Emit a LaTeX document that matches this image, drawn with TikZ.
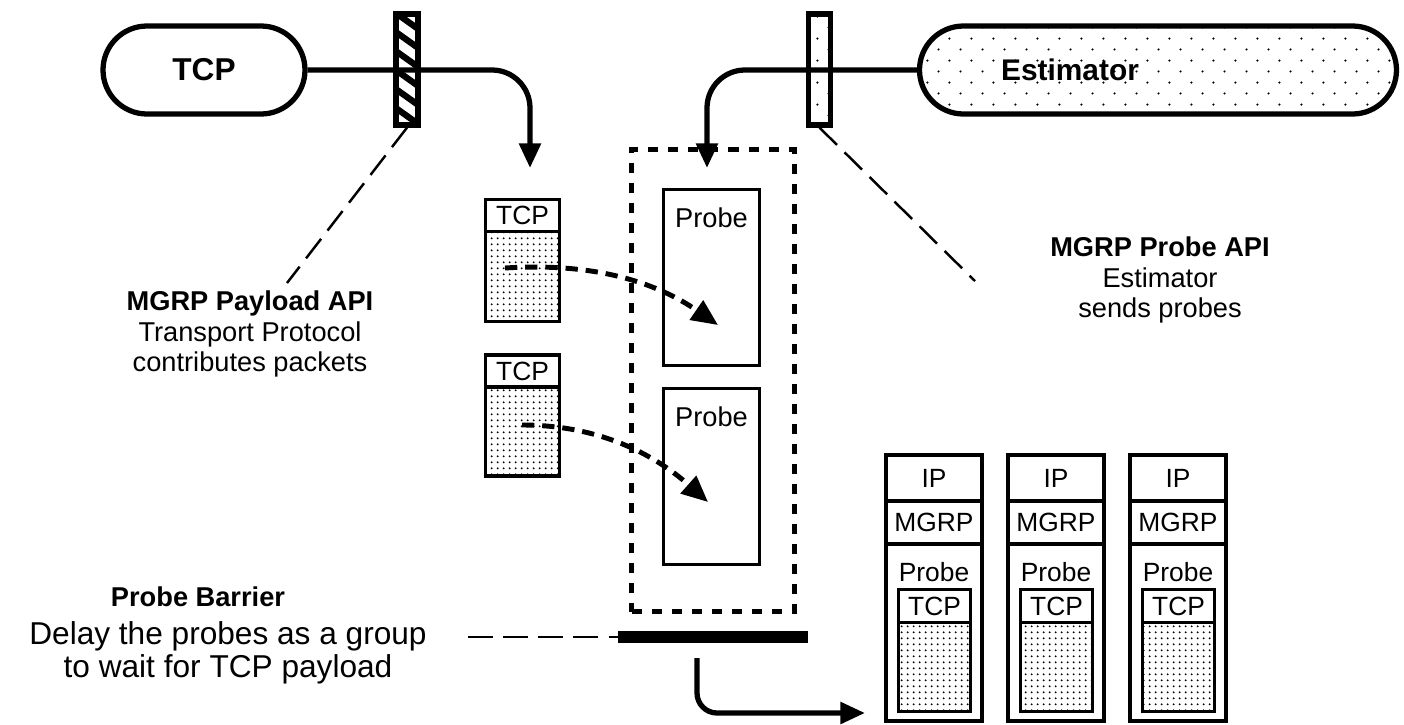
\documentclass[tikz,border=0pt]{standalone}
\usepackage{fontspec}
\setmainfont{Liberation Sans}
\usetikzlibrary{arrows.meta,positioning,patterns}

\newdimen\pxu \pxu=0.02cm

% sparse dots for the estimator side, dense dots for payload
\pgfdeclarepatternformonly{sparsedots}{\pgfpointorigin}{\pgfpoint{12.5pt}{12.5pt}}{\pgfpoint{12.5pt}{12.5pt}}{%
  \pgfpathcircle{\pgfpoint{3.1pt}{3.1pt}}{0.7pt}%
  \pgfpathcircle{\pgfpoint{9.4pt}{9.4pt}}{0.7pt}%
  \pgfusepath{fill}}
\pgfdeclarepatternformonly{densedots}{\pgfpointorigin}{\pgfpoint{3.2pt}{3.2pt}}{\pgfpoint{3.2pt}{3.2pt}}{%
  \pgfpathcircle{\pgfpoint{1.6pt}{1.6pt}}{0.62pt}%
  \pgfusepath{fill}}

\begin{document}
\begin{tikzpicture}[x=0.02cm, y=-0.02cm,
  pill/.style={draw, line width=3pt, rounded corners=44\pxu, minimum height=88\pxu,
    font=\fontsize{18}{20}\selectfont\bfseries},
  gate/.style={draw, line width=3pt, inner sep=0pt, minimum width=22\pxu,
    minimum height=111\pxu},
  pkt/.style={draw, line width=1.8pt, inner sep=0pt, outer sep=0pt,
    font=\fontsize{15}{17}\selectfont},
  lbl/.style={inner sep=0pt, align=center, font=\fontsize{15.5}{17.5}\selectfont},
  conn/.style={line width=3pt, rounded corners=38\pxu, -{Triangle[length=14pt,width=12pt]}},
  move/.style={line width=2.8pt, dash pattern=on 7pt off 4.5pt,
    -{Triangle[length=15pt,width=13pt]}},
  note/.style={line width=1.4pt, dash pattern=on 14pt off 6pt}]
\useasboundingbox (0,0) rectangle (1404,724);

% sender side
\node[pill, minimum width=202\pxu] (tcp) at (204,70) {TCP};
\node[pill, pattern=sparsedots, minimum width=477\pxu] (est) at (1158,70) {};
\node[font=\fontsize{17}{19}\selectfont\bfseries, inner sep=1pt] (estt) at (1070,70) {Estimator};
\node[gate, fill=white] (tg) at (407,69.5) {};
\begin{scope}
  \clip (tg.south west) rectangle (tg.north east);
  \foreach \k in {0,...,7}
    \draw[line width=3.6pt] (393,{-8+19*\k}) -- (421,{12+19*\k});
\end{scope}
\node[gate, pattern=sparsedots] (eg) at (819.5,69.5) {};

\coordinate (tin) at (530,168);
\coordinate (ein) at (707,168);
\draw[conn] (tcp.east) -| (tin);
\draw[conn] (est.west) -| (ein);

% probe group
\node[draw, line width=2.8pt, dash pattern=on 5.7pt off 5.7pt,
  minimum width=163\pxu, minimum height=462\pxu] (grp) at (713,380.5) {};
\node[draw, line width=1.8pt, minimum width=96\pxu, minimum height=176\pxu] (pa) at (711.5,277.5) {};
\node[draw, line width=1.8pt, minimum width=96\pxu, minimum height=176\pxu] (pb) at (711.5,476.5) {};
\node[lbl, below=19\pxu of pa.north] (pat) {Probe};
\node[lbl, below=19\pxu of pb.north] (pbt) {Probe};

% tcp packets
\node[pkt, fill=white, minimum width=74\pxu, minimum height=32\pxu] (ha) at (522.5,215.5) {TCP};
\node[pkt, pattern=densedots, minimum width=74\pxu, minimum height=90\pxu, below=0pt of ha] (ba) {};
\node[pkt, fill=white, minimum width=74\pxu, minimum height=32\pxu] (hb) at (522.5,371) {TCP};
\node[pkt, pattern=densedots, minimum width=74\pxu, minimum height=89\pxu, below=0pt of hb] (bb) {};

\coordinate (sa) at (505,268);
\coordinate (da) at (718,325);
\coordinate (sb) at (522,425);
\coordinate (db) at (708,502);
\draw[move] (sa) .. controls (600,262) and (660,285) .. (da);
\draw[move] (sb) .. controls (600,425) and (655,455) .. (db);

% barrier
\node[fill=black, inner sep=0pt, minimum width=190\pxu, minimum height=12\pxu] (bar) at (713,637) {};
\coordinate (oa) at (697,658);
\coordinate (ob) at (865,713);
\draw[conn, rounded corners=20\pxu] (oa) |- (ob);

% packets on the wire
\foreach \i in {0,1,2} {
  \node[pkt, minimum width=96\pxu, minimum height=46\pxu] (ip\i) at ({934+122*\i},478) {IP};
  \node[pkt, minimum width=96\pxu, minimum height=43\pxu, below=0pt of ip\i] (mg\i) {MGRP};
  \node[pkt, minimum width=96\pxu, minimum height=177\pxu, below=0pt of mg\i] (pk\i) {};
  \node[lbl, font=\fontsize{15}{17}\selectfont] (pt\i) at ({934+122*\i},572) {Probe};
  \node[pkt, fill=white, minimum width=72\pxu, minimum height=33\pxu] (th\i) at ({934.5+122*\i},606) {TCP};
  \node[pkt, pattern=densedots, minimum width=72\pxu, minimum height=89\pxu, below=0pt of th\i] (tb\i) {};
}

% notes
\coordinate (pl) at (287,283);
\coordinate (pr) at (975,281);
\coordinate (bl) at (468,637);
\draw[note] (tg.south) -- (pl);
\draw[note] (eg.south) -- (pr);
\draw[note] (bl) -- (bar.west);

\node[lbl] (pay) at (250,334) {\textbf{MGRP Payload API}\\Transport Protocol\\contributes packets};
\node[lbl] (prb) at (1160,280) {\textbf{MGRP Probe API}\\Estimator\\sends probes};
\node[lbl] (bh) at (198,597) {\textbf{Probe Barrier}};
\node[lbl, font=\fontsize{18}{18.5}\selectfont] (bt) at (228,653) {Delay the probes as a group\\to wait for TCP payload};
\end{tikzpicture}
\end{document}
